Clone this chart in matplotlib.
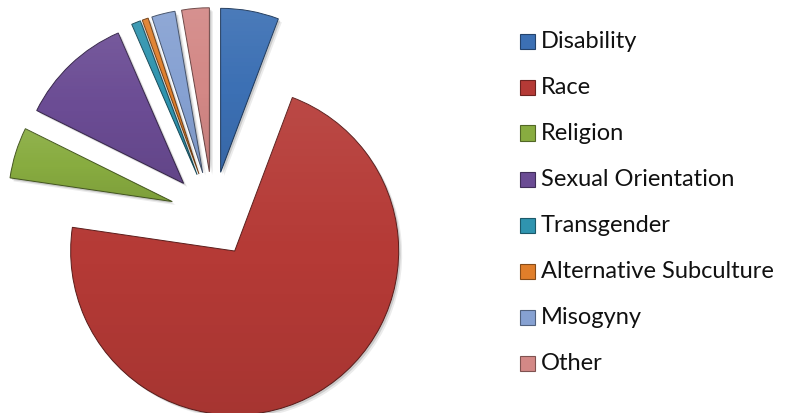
import numpy as np
import matplotlib.pyplot as plt
import matplotlib.colors as mcolors
from matplotlib.patches import Wedge, Rectangle

# Share of recorded incidents by motivating factor (%)
categories = [
    "Disability",
    "Race",
    "Religion",
    "Sexual Orientation",
    "Transgender",
    "Alternative Subculture",
    "Misogyny",
    "Other",
]
shares = [5.7, 71.3, 5.0, 11.1, 0.9, 0.6, 2.3, 2.7]
colors = ["#3C70B4", "#B53A36", "#88AC40", "#6B4C94", "#2F94AF",
          "#E07E2A", "#86A1D2", "#D38886"]

W, H = 789, 414
CX, CY, R = 213.0, 198.7, 164.0   # pie centre and radius in pixels
EXPLODE = 0.26

fig = plt.figure(figsize=(W / 100, H / 100), dpi=100)
ax = fig.add_axes([0, 0, 1, 1])

wedges, _ = ax.pie(
    shares,
    colors=colors,
    startangle=90,
    counterclock=False,
    explode=[EXPLODE] * len(shares),
    radius=1.0,
    wedgeprops=dict(linewidth=0),
)
ax.set_aspect("auto")
ax.axis("off")

px = 1.0 / R
for w, c in zip(wedges, colors):
    dark = np.array(mcolors.to_rgb(c)) * 0.5
    # soft drop shadow under each slice
    for k, a in [(3.5, 0.08), (2.0, 0.14)]:
        sh = Wedge((w.center[0] + k * px, w.center[1] - k * px), w.r,
                   w.theta1, w.theta2, facecolor="black", alpha=a,
                   linewidth=0, zorder=0.5)
        ax.add_patch(sh)
    w.set_zorder(1)
    w.set_edgecolor(dark)
    w.set_linewidth(0.7)

    # gentle shading: slightly lighter top, slightly darker bottom
    bb = w.get_path().transformed(w.get_patch_transform()).get_extents()
    grad = np.linspace(1, 0, 64)[:, None]
    img = np.zeros((64, 2, 4))
    img[..., :3] = np.where(grad[..., None] > 0.5, 1.0, 0.0)
    img[..., 3] = np.abs(grad - 0.5) * 0.16
    im = ax.imshow(img, extent=(bb.x0, bb.x1, bb.y0, bb.y1), origin="upper",
                   aspect="auto", zorder=1.5, interpolation="bilinear")
    im.set_clip_path(w)

ax.set_xlim(-CX / R, (W - CX) / R)
ax.set_ylim(-CY / R, (H - CY) / R)

# legend drawn as marker squares and labels
leg_x, leg_y0, leg_dy, box = 520, 42, 46.0, 15
for i, (name, c) in enumerate(zip(categories, colors)):
    yc = H - (leg_y0 + i * leg_dy)
    dark = np.array(mcolors.to_rgb(c)) * 0.6
    fig.patches.append(Rectangle((leg_x / W, (yc - box / 2) / H), box / W, box / H,
                                 transform=fig.transFigure, facecolor=c,
                                 edgecolor=dark, linewidth=0.8))
    fig.text((leg_x + box + 6) / W, yc / H, name, fontsize=17,
             va="center", ha="left", color="#111111", family=["Lato", "DejaVu Sans"])

fig.savefig("out.png", dpi=100, facecolor="white")
